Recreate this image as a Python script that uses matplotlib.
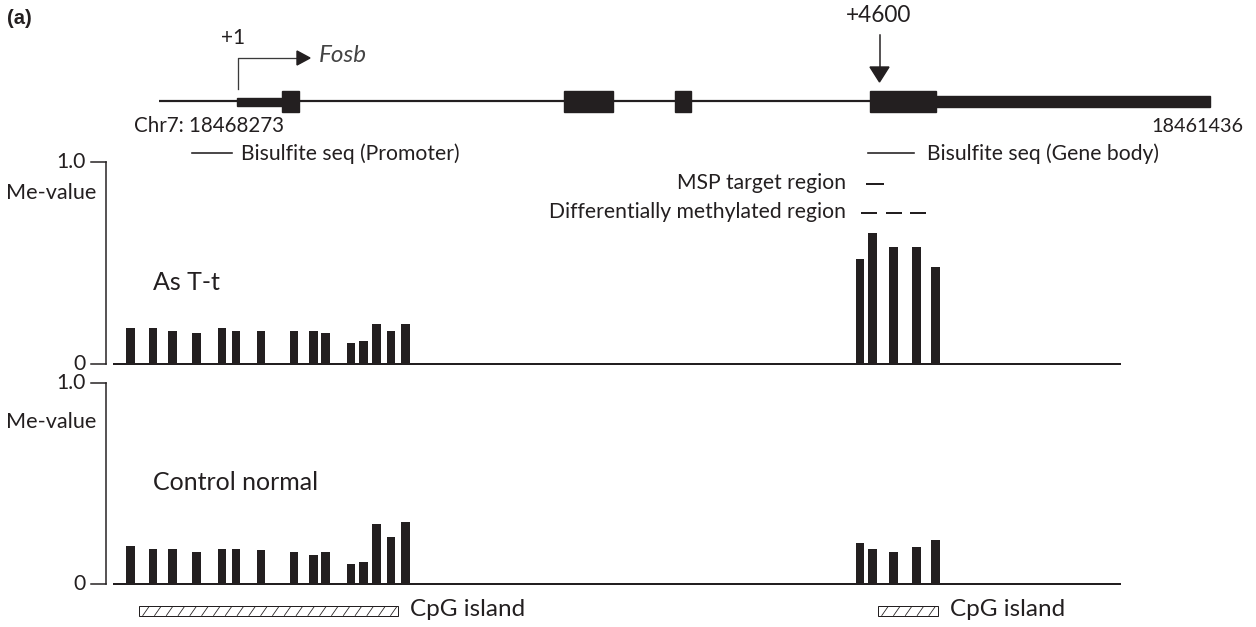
import matplotlib
matplotlib.use("Agg")
import matplotlib.pyplot as plt
from matplotlib.patches import Rectangle, Polygon

# ---------------- data ----------------
# CpG site positions along the gene (horizontal drawing units)
promoter_sites = [130.3, 153, 172.8, 196.7, 222, 236, 261, 294, 313.3, 325.3,
                  351, 363.3, 376.7, 391, 405.7]
body_sites = [860, 872.5, 893.8, 916.5, 935.2]

# Methylation (Me-value) per CpG site
ast_promoter = [0.176, 0.176, 0.165, 0.153, 0.176, 0.165, 0.165, 0.165, 0.165,
                0.153, 0.104, 0.115, 0.198, 0.165, 0.198]
ast_body = [0.518, 0.647, 0.579, 0.579, 0.479]
ctrl_promoter = [0.19, 0.174, 0.174, 0.161, 0.174, 0.174, 0.171, 0.161, 0.143,
                 0.161, 0.101, 0.111, 0.299, 0.235, 0.309]
ctrl_body = [0.204, 0.174, 0.161, 0.186, 0.217]

panel_labels = ["As T-t", "Control normal"]
ytick_values = [0, 1.0]
ytick_labels = ["0", "1.0"]

W, H = 1256, 627
INK = "#231f20"

plt.rcParams['font.family'] = ['Lato', 'DejaVu Sans']

fig = plt.figure(figsize=(W / 100, H / 100), dpi=100)

# overlay in pixel coordinates for the gene diagram / annotations
ov = fig.add_axes([0, 0, 1, 1])
ov.set_xlim(0, W)
ov.set_ylim(H, 0)
ov.axis('off')

px = 0.72  # one pixel in points
FS = 15.2

# gene line
ov.plot([159, 1210], [101, 101], color=INK, lw=2.2 * px, solid_capstyle='butt', zorder=2)
# thick 5'UTR part and exons
ov.add_patch(Rectangle((237, 97.5), 46, 8, color=INK, zorder=3))
for x0, x1 in [(282, 299), (564, 613), (675, 691), (870, 936)]:
    ov.add_patch(Rectangle((x0, 91), x1 - x0, 20.5, color=INK, zorder=3))
ov.add_patch(Rectangle((935, 96), 275, 11, color=INK, zorder=3))

# transcription start arrow
ov.plot([238, 238, 298], [89, 58, 58], color='#3a3a3a', lw=1.3 * px, zorder=3)
ov.add_patch(Polygon([(297, 51), (297, 65), (310, 58)], closed=True, color=INK, zorder=3))
ov.text(233, 38, "+1", ha='center', va='center', fontsize=15, color=INK)
ov.text(319, 56, "Fosb", ha='left', va='center', fontsize=17.5, style='italic', color='#444444')

# +4600 arrow
ov.plot([879.5, 879.5], [35, 68], color=INK, lw=1.5 * px, zorder=3)
ov.add_patch(Polygon([(870, 67), (889, 67), (879.5, 82)], closed=True, color=INK, zorder=3))
ov.text(879, 16, "+4600", ha='center', va='center', fontsize=16.3, color=INK)

ov.text(7, 18, "(a)", ha='left', va='center', fontsize=14.5, weight='bold',
        family=['Liberation Sans', 'DejaVu Sans'], color=INK)
ov.text(134, 126, "Chr7: 18468273", ha='left', va='center', fontsize=14.8, color=INK)
ov.text(1243, 126, "18461436", ha='right', va='center', fontsize=14.2, color=INK)

# region legends
ov.plot([192, 232], [153, 153], color=INK, lw=1.6 * px)
ov.text(241, 154, "Bisulfite seq (Promoter)", ha='left', va='center', fontsize=FS, color=INK)
ov.plot([868, 914], [153, 153], color=INK, lw=1.6 * px)
ov.text(927, 154, "Bisulfite seq (Gene body)", ha='left', va='center', fontsize=FS, color=INK)
ov.plot([867, 883], [184, 184], color=INK, lw=2 * px)
ov.text(846, 183, "MSP target region", ha='right', va='center', fontsize=FS, color=INK)
for a, b in [(862, 876), (887, 901), (911, 925)]:
    ov.plot([a, b], [213, 213], color=INK, lw=2 * px)
ov.text(846, 212, "Differentially methylated region", ha='right', va='center', fontsize=FS, color=INK)

# CpG islands (hatched boxes)
for x0, x1, tx in [(139, 398, 410), (878, 938, 950)]:
    y0, y1 = 605.5, 615.5
    box = Rectangle((x0, y0), x1 - x0, y1 - y0, fill=False, edgecolor=INK, lw=1 * px, zorder=4)
    ov.add_patch(box)
    x = x0 - 8
    while x < x1 + 8:
        ln, = ov.plot([x, x + 7], [y1, y0], color=INK, lw=0.8 * px, zorder=3)
        ln.set_clip_path(box)
        x += 11.8
    ov.text(tx, 610, "CpG island", ha='left', va='center', fontsize=17.5, color=INK)

# ---------------- bar panels ----------------
panels = [
    (364, 162, ast_promoter, ast_body, panel_labels[0], 282, 193),
    (584, 383, ctrl_promoter, ctrl_body, panel_labels[1], 483, 422),
]
bar_w = 8.7
for base_px, top_px, prom, body, lab, lab_y, me_y in panels:
    ax = fig.add_axes([0, (H - base_px) / H, 1, (base_px - top_px) / H])
    ax.set_xlim(0, W)
    ax.set_ylim(0, 1)
    ax.axis('off')
    ax.bar(promoter_sites, prom, width=bar_w, color=INK, zorder=3)
    ax.bar(body_sites, body, width=bar_w, color=INK, zorder=3)
    # baseline
    ax.plot([114, 1120], [0, 0], color=INK, lw=2 * px, clip_on=False, zorder=4)
    # y axis bracket
    ax.plot([106, 106], [0, 1], color=INK, lw=1.5 * px, clip_on=False)
    for v, t in zip(ytick_values, ytick_labels):
        ax.plot([91, 106], [v, v], color=INK, lw=1.5 * px, clip_on=False)
        ax.text(86, v, t, ha='right', va='center', fontsize=FS, color=INK)
    ov.text(96, me_y, "Me-value", ha='right', va='center', fontsize=15.6, color=INK)
    ov.text(153, lab_y, lab, ha='left', va='center', fontsize=18, color=INK)

fig.savefig("out.png", dpi=100)
